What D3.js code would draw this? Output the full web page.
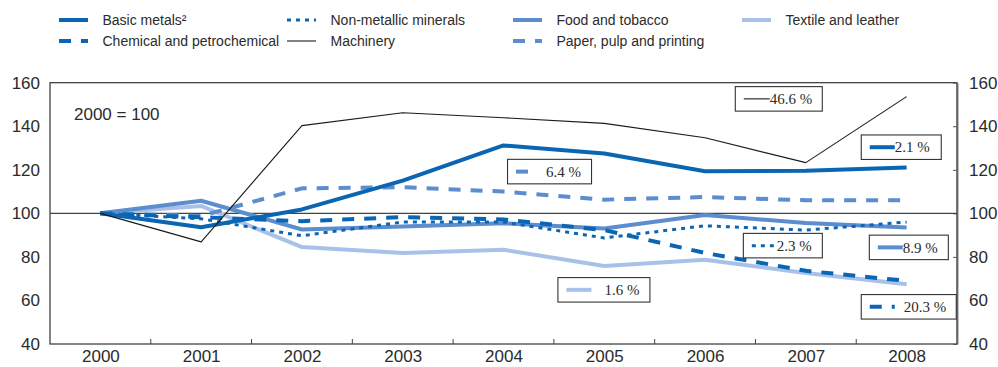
<!DOCTYPE html>
<html>
<head>
<meta charset="utf-8">
<script src="https://cdn.jsdelivr.net/npm/d3@7/dist/d3.min.js"></script>
<style>
  html, body { margin: 0; padding: 0; background: #fff; }
  svg { display: block; }
  text { font-family: "Liberation Sans", Arial, Helvetica, sans-serif; fill: #2b2b2b; }
  .callout text { font-family: "Liberation Serif", "Times New Roman", serif; }
</style>
</head>
<body>
<svg id="chart" width="998" height="367"></svg>
<script>
// Production indices by industry, 2000 = 100
const years = [2000, 2001, 2002, 2003, 2004, 2005, 2006, 2007, 2008];
const basicMetals = [100, 93.6, 101.8, 115.0, 131.2, 127.5, 119.3, 119.6, 121.0];
const chemical    = [100, 98.2, 96.4, 98.3, 97.2, 92.3, 81.8, 73.6, 69.0];
const nonMetallic = [100, 97.5, 89.7, 96.0, 96.0, 88.7, 94.3, 92.3, 96.0];
const machinery   = [100, 86.9, 140.3, 146.2, 143.9, 141.3, 134.7, 123.3, 153.6];
const food        = [100, 105.8, 92.6, 94.0, 95.5, 93.0, 99.2, 95.6, 93.5];
const paper       = [100, 98.8, 111.5, 112.0, 110.0, 106.3, 107.5, 106.0, 106.0];
const textile     = [100, 103.4, 84.5, 81.8, 83.3, 75.8, 78.7, 72.6, 67.4];
const yTicks = [40, 60, 80, 100, 120, 140, 160];

// Change labels shown in the boxed callouts
const calloutTexts = {
  "Machinery": "46.6 %",
  "Basic metals²": "2.1 %",
  "Paper, pulp and printing": "6.4 %",
  "Textile and leather": "1.6 %",
  "Non-metallic minerals": "2.3 %",
  "Food and tobacco": "8.9 %",
  "Chemical and petrochemical": "20.3 %"
};

const DARK = "#0a66b2", MID = "#5b8dcf", LIGHT = "#a9c1e8";

// Series in legend order (two rows, column-major)
const series = [
  { name: "Basic metals²", values: basicMetals, color: DARK, width: 4, dash: null },
  { name: "Chemical and petrochemical", values: chemical, color: DARK, width: 4, dash: "12,10" },
  { name: "Non-metallic minerals", values: nonMetallic, color: DARK, width: 3, dash: "4,5" },
  { name: "Machinery", values: machinery, color: "#1a1a1a", width: 1.1, dash: null },
  { name: "Food and tobacco", values: food, color: MID, width: 4, dash: null },
  { name: "Paper, pulp and printing", values: paper, color: MID, width: 4, dash: "12,10" },
  { name: "Textile and leather", values: textile, color: LIGHT, width: 4, dash: null }
];
// Stacking order of the lines (last on top)
const drawOrder = ["Textile and leather", "Food and tobacco", "Paper, pulp and printing",
  "Non-metallic minerals", "Chemical and petrochemical", "Basic metals²", "Machinery"];

const svg = d3.select("#chart");
const plot = { left: 50, right: 957, top: 82.7, bottom: 344 };

const x = d3.scalePoint().domain(years).range([plot.left, plot.right]).padding(0.5);
const y = d3.scaleLinear().domain([40, 160]).range([plot.bottom, plot.top]);
// fractional year position, for callout placement
const xf = d3.scaleLinear().domain([0, 8]).range([x(2000), x(2008)]);

// Legend
const legend = svg.append("g");
const colX = [59, 287, 513, 742], rowY = [20, 41];
series.forEach((s, i) => {
  const cx = colX[Math.floor(i / 2)], cy = rowY[i % 2];
  const g = legend.append("g");
  g.append("line").attr("x1", cx).attr("x2", cx + 29).attr("y1", cy).attr("y2", cy)
    .attr("stroke", s.color).attr("stroke-width", s.width)
    .attr("stroke-dasharray", s.dash);
  g.append("text").attr("x", cx + 43.5).attr("y", cy).attr("dy", "0.36em")
    .style("font-size", "14px").text(s.name);
});

// Frame
svg.append("rect").attr("x", plot.left).attr("y", plot.top)
  .attr("width", plot.right - plot.left).attr("height", plot.bottom - plot.top)
  .attr("fill", "none").attr("stroke", "#333").attr("stroke-width", 1.2);

// Left axis
const leftAxis = d3.axisLeft(y).tickValues(yTicks).tickSize(0).tickPadding(10);
svg.append("g").attr("transform", `translate(${plot.left},0)`).call(leftAxis)
  .call(g => g.select(".domain").remove())
  .call(g => g.selectAll("text").style("font-size", "17px").attr("fill", "#2b2b2b"));

// Right axis with small inward ticks
const rightAxis = d3.axisRight(y).tickValues(yTicks).tickSizeInner(-4).tickSizeOuter(0).tickPadding(12);
svg.append("g").attr("transform", `translate(${plot.right},0)`).call(rightAxis)
  .call(g => g.select(".domain").attr("stroke", "#666").attr("stroke-width", 1.8))
  .call(g => g.selectAll(".tick line").attr("stroke", "#555"))
  .call(g => g.selectAll("text").style("font-size", "17px").attr("fill", "#2b2b2b"));

// Bottom axis: year labels, inward ticks between years
const bottomAxis = d3.axisBottom(x).tickSize(0).tickPadding(6);
svg.append("g").attr("transform", `translate(0,${plot.bottom})`).call(bottomAxis)
  .call(g => g.select(".domain").remove())
  .call(g => g.selectAll("text").style("font-size", "17px").attr("fill", "#2b2b2b"));
const step = x.step();
svg.append("g").selectAll("line").data(years.slice(0, -1)).join("line")
  .attr("x1", d => x(d) + step / 2).attr("x2", d => x(d) + step / 2)
  .attr("y1", plot.bottom).attr("y2", plot.bottom - 5)
  .attr("stroke", "#444").attr("stroke-width", 1);

// Reference line at 100
svg.append("line").attr("x1", plot.left).attr("x2", plot.right)
  .attr("y1", y(100)).attr("y2", y(100)).attr("stroke", "#444").attr("stroke-width", 1.2);

// Base note
svg.append("text").attr("x", 74).attr("y", 113.5).attr("dy", "0.36em")
  .style("font-size", "17px").text("2000 = 100");

// Lines
const line = d3.line().x((d, i) => x(years[i])).y(d => y(d));
const byName = new Map(series.map(s => [s.name, s]));
svg.append("g").selectAll("path").data(drawOrder.map(n => byName.get(n))).join("path")
  .attr("d", s => line(s.values))
  .attr("fill", "none").attr("stroke", s => s.color).attr("stroke-width", s => s.width)
  .attr("stroke-dasharray", s => s.dash).attr("stroke-linejoin", "round");

// Boxed callouts: position as (year index, value), width in px
const calloutPlacement = [
  { name: "Machinery", i: 6.30, v: 158.2, w: 87, sample: 26 },
  { name: "Basic metals²", i: 7.55, v: 136.0, w: 80, sample: 25 },
  { name: "Paper, pulp and printing", i: 4.04, v: 124.8, w: 84, sample: 22, gap: 8 },
  { name: "Textile and leather", i: 4.54, v: 70.5, w: 92, sample: 25, gap: 13 },
  { name: "Non-metallic minerals", i: 6.38, v: 90.8, w: 79, sample: 25 },
  { name: "Food and tobacco", i: 7.63, v: 90.0, w: 79, sample: 25 },
  { name: "Chemical and petrochemical", i: 7.55, v: 62.7, w: 95, sample: 25, gap: 9 }
];
const callouts = svg.append("g").attr("class", "callout");
calloutPlacement.forEach(c => {
  const s = byName.get(c.name);
  const bx = xf(c.i), by = y(c.v), h = 24.5;
  const g = callouts.append("g");
  g.append("rect").attr("x", bx).attr("y", by).attr("width", c.w).attr("height", h)
    .attr("fill", "#fff").attr("stroke", "#333").attr("stroke-width", 1.1);
  const sx = bx + 8.5, sy = by + h / 2;
  g.append("line").attr("x1", sx).attr("x2", sx + c.sample).attr("y1", sy).attr("y2", sy)
    .attr("stroke", s.color).attr("stroke-width", s.width)
    .attr("stroke-dasharray", s.dash);
  g.append("text").attr("x", sx + c.sample + (c.gap || 0)).attr("y", sy).attr("dy", "0.35em")
    .style("font-size", "15px").attr("fill", "#333").text(calloutTexts[c.name]);
});
</script>
</body>
</html>
